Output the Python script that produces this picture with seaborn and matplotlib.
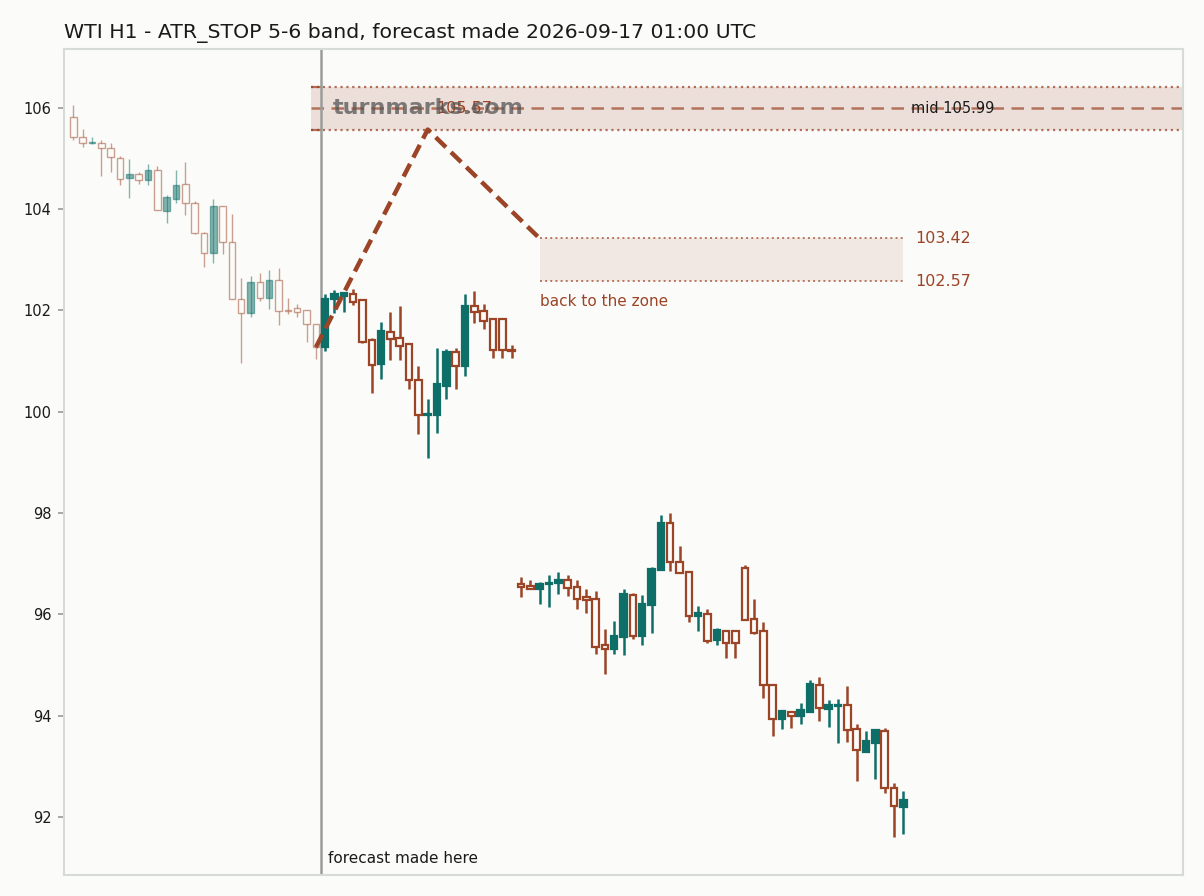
import matplotlib
matplotlib.use("Agg")
import matplotlib.pyplot as plt
import matplotlib.colors as mcolors
import numpy as np
import pandas as pd
import seaborn as sns

# hourly candles, first 27 are history before the forecast
opens = [105.82, 105.43, 105.30, 105.31, 105.20, 105.00, 104.62, 104.70, 104.58, 104.78,
         103.96, 104.20, 104.49, 104.11, 103.53, 103.14, 104.06, 103.34, 102.22, 101.95,
         102.55, 102.24, 102.59, 102.01, 102.04, 102.00, 101.74,
         101.27, 102.23, 102.29, 102.33, 102.20, 101.41, 100.94, 101.57, 101.45, 101.33,
         100.62, 99.93, 99.94, 100.51, 101.17, 100.90, 102.08, 101.98, 101.82, 101.82,
         101.22, 96.59, 96.55, 96.49, 96.59, 96.61, 96.67, 96.53, 96.33, 96.31,
         95.40, 95.32, 95.55, 96.38, 95.57, 96.18, 96.87, 97.81, 97.04, 96.83,
         95.97, 96.01, 95.49, 95.67, 95.67, 96.92, 95.90, 95.67, 94.61, 93.93,
         94.06, 93.99, 94.07, 94.61, 94.12, 94.18, 94.20, 93.74, 93.28, 93.46,
         93.70, 92.57, 92.20]
highs = [106.05, 105.59, 105.43, 105.37, 105.30, 105.05, 104.98, 104.73, 104.89, 104.85,
         104.27, 104.78, 104.93, 104.16, 103.55, 104.19, 104.06, 103.91, 102.64, 102.68,
         102.74, 102.79, 102.83, 102.25, 102.12, 102.00, 101.74,
         102.32, 102.40, 102.35, 102.43, 102.23, 101.45, 101.77, 101.96, 102.08, 101.33,
         100.91, 100.24, 101.25, 101.23, 101.25, 102.32, 102.38, 102.12, 101.82, 101.82,
         101.31, 96.74, 96.67, 96.64, 96.77, 96.83, 96.77, 96.67, 96.50, 96.46,
         95.71, 95.86, 96.50, 96.42, 96.38, 96.94, 97.96, 97.99, 97.34, 96.83,
         96.16, 96.11, 95.72, 95.67, 95.67, 96.97, 96.31, 95.84, 94.61, 94.11,
         94.09, 94.24, 94.70, 94.76, 94.30, 94.32, 94.58, 93.84, 93.69, 93.73,
         93.75, 92.66, 92.51]
lows = [105.37, 105.22, 105.28, 104.65, 104.73, 104.47, 104.22, 104.49, 104.47, 103.99,
        103.72, 104.12, 103.88, 103.50, 102.86, 102.93, 103.12, 102.22, 100.96, 101.86,
        102.19, 102.02, 101.71, 101.93, 101.86, 101.37, 101.03,
        101.20, 101.94, 101.97, 102.10, 101.36, 100.37, 100.65, 101.02, 101.02, 100.45,
        99.56, 99.09, 99.58, 100.25, 100.45, 100.70, 101.75, 101.63, 101.06, 101.06,
        101.05, 96.34, 96.49, 96.21, 96.15, 96.40, 96.36, 96.11, 96.03, 95.21,
        94.82, 95.21, 95.19, 95.51, 95.39, 95.63, 96.87, 96.85, 96.81, 95.85,
        95.67, 95.44, 95.39, 95.14, 95.14, 95.88, 95.61, 94.35, 93.59, 93.73,
        93.76, 93.83, 94.07, 93.89, 93.78, 93.46, 93.48, 92.71, 93.28, 92.75,
        92.47, 91.60, 91.66]
closes = [105.43, 105.30, 105.32, 105.20, 105.02, 104.60, 104.70, 104.58, 104.78, 103.99,
          104.23, 104.47, 104.11, 103.53, 103.14, 104.06, 103.35, 102.22, 101.95, 102.55,
          102.25, 102.59, 101.99, 101.98, 101.97, 101.74, 101.27,
          102.23, 102.32, 102.35, 102.17, 101.38, 100.93, 101.59, 101.43, 101.30, 100.62,
          99.93, 99.96, 100.54, 101.17, 100.91, 102.08, 101.96, 101.79, 101.21, 101.21,
          101.20, 96.54, 96.49, 96.59, 96.62, 96.67, 96.51, 96.31, 96.29, 95.36,
          95.31, 95.57, 96.40, 95.57, 96.21, 96.90, 97.80, 97.03, 96.81, 95.97,
          96.02, 95.47, 95.69, 95.44, 95.44, 95.88, 95.63, 94.61, 93.94, 94.08,
          94.00, 94.11, 94.63, 94.14, 94.21, 94.21, 93.71, 93.32, 93.49, 93.71,
          92.56, 92.21, 92.33]
n_history = 27

# forecast levels
band_low, band_high, band_mid = 105.57, 106.41, 105.99
zone_low, zone_high = 102.57, 103.42
path_x = [26, 38, 50]
path_y = [101.27, 105.57, 103.42]
zone_end = 89

TEAL = "#0e6e68"
BROWN = "#9b4426"
BG = "#fbfbf9"

sns.set_theme(style="white")
plt.rcParams["font.family"] = ["DejaVu Sans"]

df = pd.DataFrame({"open": opens, "high": highs, "low": lows, "close": closes})
df["x"] = np.arange(len(df))
df["up"] = df["close"] >= df["open"]
df["hist"] = df["x"] < n_history

fig = plt.figure(figsize=(12.04, 8.96), dpi=100, facecolor=BG)
ax = fig.add_axes([0.0532, 0.0234, 0.9294, 0.9219])
ax.set_facecolor(BG)

# candles
for hist, alpha, wick_lw, body_lw in [(True, 0.5, 1.0, 1.0), (False, 1.0, 1.8, 1.6)]:
    part = df[df["hist"] == hist]
    for up, col in [(True, TEAL), (False, BROWN)]:
        sub = part[part["up"] == up]
        rgba = mcolors.to_rgba(col, alpha)
        ax.vlines(sub["x"], sub["low"], sub["high"], color=rgba, lw=wick_lw, zorder=2)
        body_lo = np.minimum(sub["open"], sub["close"])
        body_h = np.maximum((sub["open"] - sub["close"]).abs(), 0.02)
        ax.bar(sub["x"], body_h, bottom=body_lo, width=0.7,
               color=rgba if up else BG, edgecolor=rgba, linewidth=body_lw, zorder=3)

# ATR stop band
ax.axhspan(band_low, band_high, xmin=(25.5 + 1) / 120, xmax=1,
           color=mcolors.to_rgba(BROWN, 0.15), lw=0, zorder=1)
ax.hlines([band_low, band_high], 25.5, 119, color=mcolors.to_rgba(BROWN, 0.75),
          lw=1.6, linestyles=":", zorder=1.5)
ax.hlines([band_low, band_high], 25.5, 26.6, color=mcolors.to_rgba(BROWN, 0.75),
          lw=1.6, zorder=1.5)
ax.axhline(band_mid, xmin=(25.5 + 1) / 120, color=mcolors.to_rgba(BROWN, 0.7),
           lw=1.8, ls=(0, (5, 3)), zorder=1.5)

# target zone
ax.fill_between([path_x[-1], zone_end], zone_low, zone_high,
                color=mcolors.to_rgba(BROWN, 0.1), lw=0, zorder=1)
ax.hlines([zone_low, zone_high], path_x[-1], zone_end, color=mcolors.to_rgba(BROWN, 0.7),
          lw=1.4, linestyles=":", zorder=1.5)

# forecast marker
ax.axvline(26.6, color="#9a9d9a", lw=1.8, zorder=1.8)

# forecast path
sns.lineplot(x=path_x, y=path_y, ax=ax, color=BROWN, lw=3.2,
             linestyle=(0, (3.2, 1.6)), zorder=5)

# texts
ax.text(0.24, 0.928, "turnmarks.com", transform=ax.transAxes, fontsize=16,
        fontweight="bold", color="#555555", alpha=0.75, va="center", zorder=6)
ax.text(path_x[1] + 0.95, band_mid, f"{path_y[1]:.2f}", fontsize=11.5, color=BROWN,
        va="center", ha="left", zorder=5)
ax.text(89.8, band_mid, f"mid {band_mid:.2f}", fontsize=10.5, color="#1a1a1a",
        va="center", ha="left", zorder=5)
ax.text(90.3, zone_high, f"{zone_high:.2f}", fontsize=11.5, color=BROWN, va="center")
ax.text(90.3, zone_low, f"{zone_low:.2f}", fontsize=11.5, color=BROWN, va="center")
ax.text(path_x[-1], zone_low - 0.4, "back to the zone", fontsize=11, color=BROWN,
        va="center", ha="left")
ax.text(27.3, 90.85 + 0.33, "forecast made here", fontsize=11, color="#1a1a1a",
        va="center", ha="left")

ax.set_xlim(-1, 119)
ax.set_ylim(90.85, 107.16)
ax.set_xticks([])
ax.set_yticks([92, 94, 96, 98, 100, 102, 104, 106])
ax.tick_params(axis="y", left=True, length=4, width=1.2, color="#999999",
               labelsize=10.5, labelcolor="#1a1a1a", pad=5)
ax.set_xlabel("")
ax.set_ylabel("")
for sp in ax.spines.values():
    sp.set_color("#d6dbd8")
    sp.set_linewidth(1.5)

ax.set_title("WTI H1 - ATR_STOP 5-6 band, forecast made 2026-09-17 01:00 UTC",
             loc="left", fontsize=14.7, color="#1a1a1a", pad=8)

fig.savefig("out.png", dpi=100, facecolor=BG)
